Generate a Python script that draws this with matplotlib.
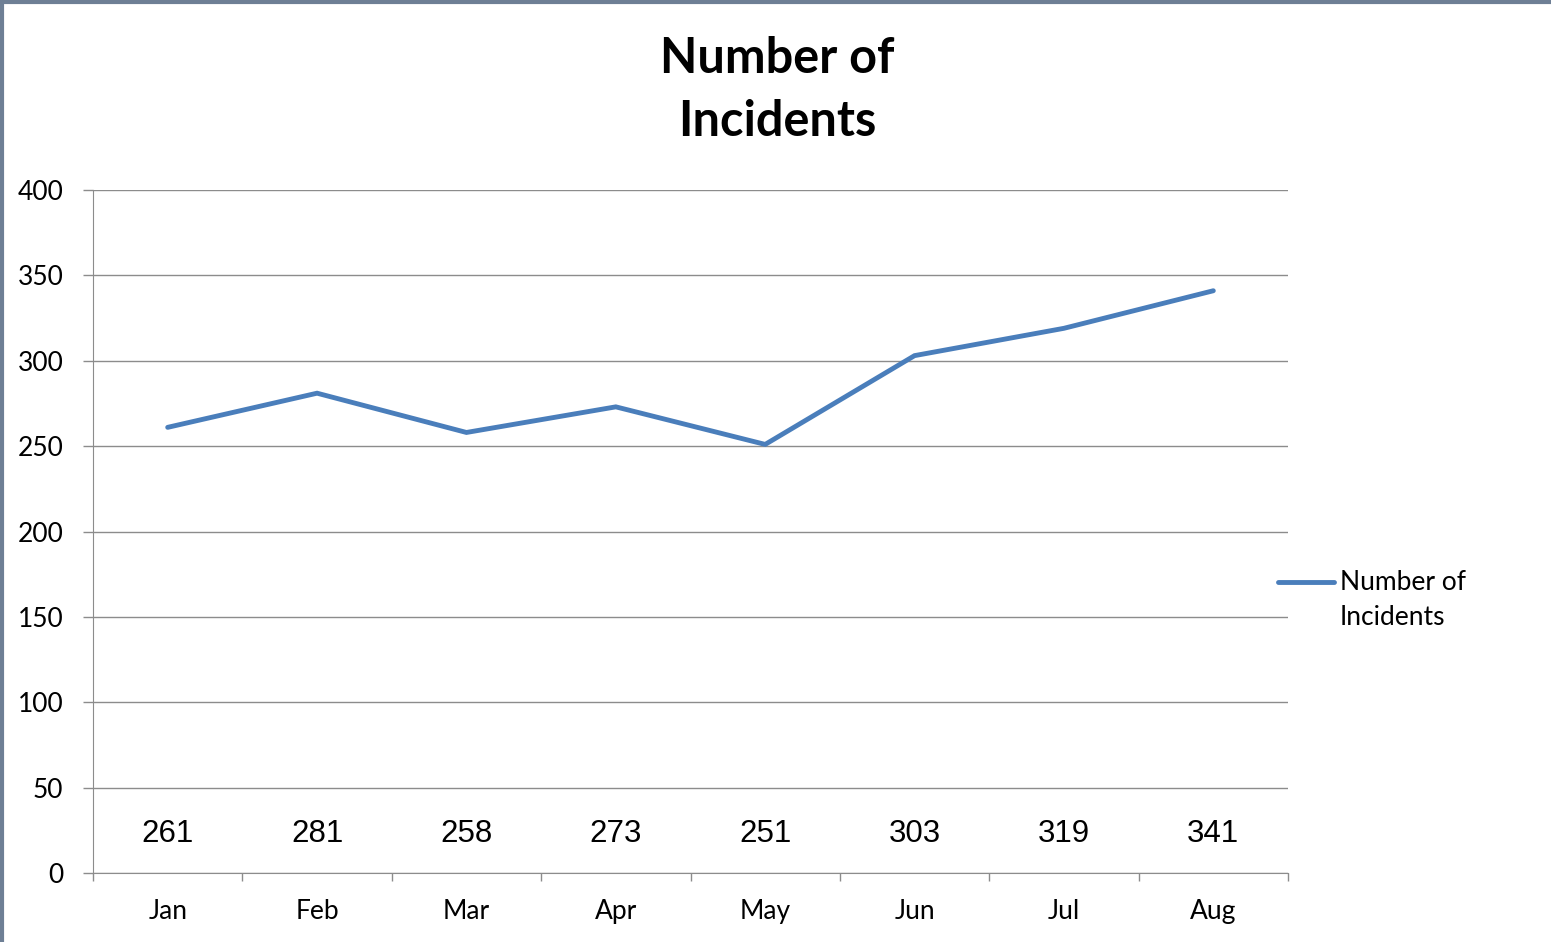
import matplotlib.pyplot as plt
from matplotlib.lines import Line2D

# MARK:- data
months = ["Jan", "Feb", "Mar", "Apr", "May", "Jun", "Jul", "Aug"]
incidents = [261, 281, 258, 273, 251, 303, 319, 341]
y_ticks = [0, 50, 100, 150, 200, 250, 300, 350, 400]

line_color = "#4A7EBB"
grid_color = "#8C8C8C"
font = "Lato"

# MARK:- figure
W, H = 1551, 942
fig = plt.figure(figsize=(W / 100, H / 100), dpi=100)
ax = fig.add_axes([93 / W, 1 - 873 / H, (1288 - 93) / W, (873 - 190) / H])

x = [i + 0.5 for i in range(len(months))]
ax.plot(x, incidents, color=line_color, lw=3.5, solid_capstyle="round",
        solid_joinstyle="miter", zorder=3)

# data labels along the bottom
for xi, v in zip(x, incidents):
    ax.text(xi, 23, str(v), ha="center", va="center", fontsize=22.5,
            family="Liberation Sans", color="black")

ax.set_xlim(0, len(months))
ax.set_ylim(0, 400)
ax.set_yticks(y_ticks)
ax.set_xticks(range(len(months) + 1))
ax.set_xticklabels([])
ax.set_xticks(x, minor=True)
ax.set_xticklabels(months, minor=True, fontsize=19, family=font)
ax.tick_params(axis="x", which="major", length=6, width=1, color=grid_color, direction="out")
ax.tick_params(axis="x", which="minor", length=0, pad=19)
ax.tick_params(axis="y", length=7.2, width=1, color=grid_color, pad=14)
for lab in ax.get_yticklabels():
    lab.set_fontsize(19)
    lab.set_family(font)

ax.grid(axis="y", color=grid_color, lw=1)
ax.set_axisbelow(True)
for s in ["top", "right"]:
    ax.spines[s].set_visible(False)
ax.spines["left"].set_color(grid_color)
ax.spines["bottom"].set_color(grid_color)

# title
fig.text(777 / W, 1 - 90 / H, "Number of\nIncidents", ha="center", va="center",
         fontsize=35, fontweight="bold", family=font, linespacing=1.5)

# legend, drawn by hand so the key sits on the first text line
fig.add_artist(Line2D([1278 / W, 1334 / W], [1 - 582 / H] * 2, color=line_color,
                      lw=3.5, solid_capstyle="round", transform=fig.transFigure))
fig.text(1340 / W, 1 - 600 / H, "Number of\nIncidents", ha="left", va="center",
         fontsize=19, family=font, linespacing=1.48)

# outer frame lines
fig.add_artist(Line2D([0.001, 0.001], [0, 1], color="#6E7F95", lw=3, transform=fig.transFigure))
fig.add_artist(Line2D([0, 1], [0.998, 0.998], color="#6E7F95", lw=3, transform=fig.transFigure))

fig.savefig("out.png", dpi=100)
